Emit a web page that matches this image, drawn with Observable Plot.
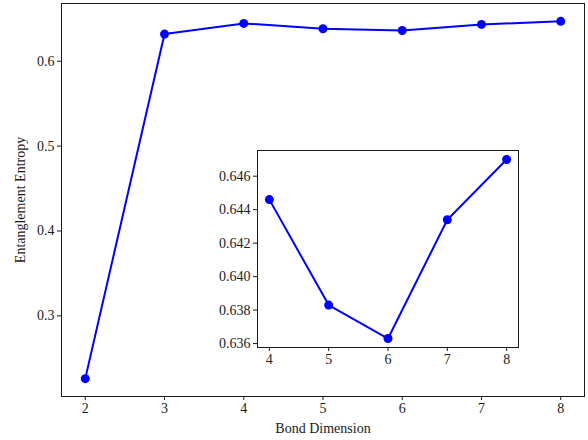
<!DOCTYPE html>
<html>
<head>
<meta charset="utf-8">
<script src="https://cdn.jsdelivr.net/npm/d3@7"></script>
<script src="https://cdn.jsdelivr.net/npm/@observablehq/plot@0.6"></script>
<style>
  html, body { margin: 0; padding: 0; background: #fff; }
  #wrap { position: relative; width: 588px; height: 440px; }
  #main, #inset { position: absolute; }
  #main { left: 0; top: 0; }
  #inset { left: 212px; top: 145px; }
  svg { overflow: visible; }
</style>
</head>
<body>
<div id="wrap"><div id="main"></div><div id="inset"></div></div>
<script>
const bondDims = [2, 3, 4, 5, 6, 7, 8];
const entropy = [0.226, 0.632, 0.6446, 0.6383, 0.6363, 0.6434, 0.6470];
const mainXTicks = [2, 3, 4, 5, 6, 7, 8];
const mainYTicks = [0.3, 0.4, 0.5, 0.6];
const insetXTicks = [4, 5, 6, 7, 8];
const insetYTicks = [0.636, 0.638, 0.640, 0.642, 0.644, 0.646];

const data = bondDims.map((d, i) => ({d, s: entropy[i]}));
const insetData = data.filter(r => r.d >= 4);

const FONT = "'Liberation Serif', 'DejaVu Serif', serif";
const BLUE = "#0000ff";

function pad(vals) {
  const lo = d3.min(vals), hi = d3.max(vals), m = (hi - lo) * 0.05;
  return [lo - m, hi + m];
}

const main = Plot.plot({
  width: 588, height: 440,
  marginLeft: 61, marginRight: 4, marginTop: 3, marginBottom: 44,
  style: {fontFamily: FONT, fontSize: "14px", color: "#1a1a1a", background: "transparent"},
  x: {domain: pad(bondDims)},
  y: {domain: pad(entropy)},
  marks: [
    Plot.frame({stroke: "#1a1a1a", strokeWidth: 1}),
    Plot.axisX({ticks: mainXTicks, tickSize: 4, tickPadding: 3, tickFormat: d3.format("d"), label: null}),
    Plot.axisY({ticks: mainYTicks, tickSize: 4, tickPadding: 3, tickFormat: d3.format(".1f"), label: null}),
    Plot.text(["Bond Dimension"], {frameAnchor: "bottom", dy: 36, fontSize: 14}),
    Plot.text(["Entanglement Entropy"], {frameAnchor: "left", dx: -41, rotate: -90, textAnchor: "middle", fontSize: 14}),
    Plot.line(data, {x: "d", y: "s", stroke: BLUE, strokeWidth: 2}),
    Plot.dot(data, {x: "d", y: "s", fill: BLUE, r: 4.5})
  ]
});
document.getElementById("main").appendChild(main);

const insetYs = insetData.map(r => r.s);
const inset = Plot.plot({
  width: 316, height: 227,
  marginLeft: 45, marginRight: 10, marginTop: 5, marginBottom: 25,
  style: {fontFamily: FONT, fontSize: "14px", color: "#1a1a1a", background: "#fff"},
  x: {domain: pad(insetXTicks)},
  y: {domain: pad(insetYs)},
  marks: [
    Plot.frame({stroke: "#1a1a1a", strokeWidth: 1, fill: "#fff"}),
    Plot.axisX({ticks: insetXTicks, tickSize: 4, tickPadding: 3, tickFormat: d3.format("d"), label: null}),
    Plot.axisY({ticks: insetYTicks, tickSize: 4, tickPadding: 3, tickFormat: d3.format(".3f"), label: null}),
    Plot.line(insetData, {x: "d", y: "s", stroke: BLUE, strokeWidth: 2}),
    Plot.dot(insetData, {x: "d", y: "s", fill: BLUE, r: 4.5})
  ]
});
document.getElementById("inset").appendChild(inset);
</script>
</body>
</html>
